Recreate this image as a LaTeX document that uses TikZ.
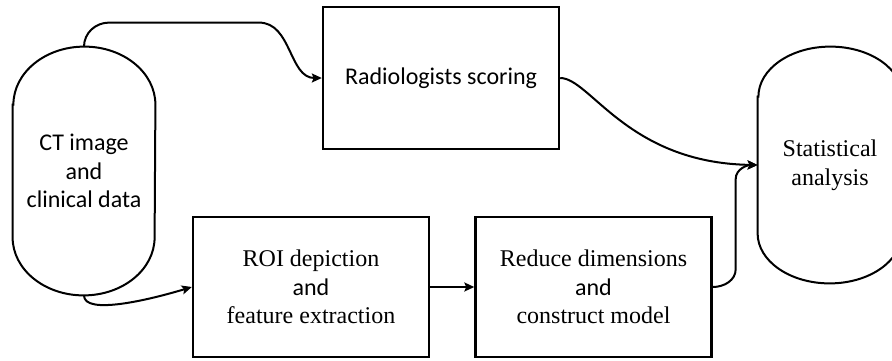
\documentclass[tikz,border=0pt]{standalone}
\usepackage{fontspec}
\setmainfont{Liberation Serif}
\newfontfamily\calibri{Carlito}
\usepackage{tikz}
\usetikzlibrary{arrows.meta}

\begin{document}
\begin{tikzpicture}[x=0.5pt,y=0.5pt,
    box/.style={draw,line width=1.2pt,minimum width=118pt,minimum height=70pt,inner sep=0pt,align=center,font=\fontsize{12}{14.3}\selectfont},
    capsule/.style={inner sep=0pt,align=center,font=\fontsize{12}{14.3}\selectfont},
    outline/.style={line width=1pt},
    flow/.style={line width=1pt,-{Stealth[length=5pt,width=4.5pt,inset=1pt]}}]
    \useasboundingbox (0,0) rectangle (892,360);
    \node[capsule,font=\calibri\fontsize{12}{14.3}\selectfont,minimum width=71pt,minimum height=124pt] (ct) at (84,189) {CT image\\and\\clinical data};
    \draw[outline] ([yshift=-29pt]ct.north west) -- ([yshift=29pt]ct.south west)
        arc[start angle=180,end angle=360,x radius=35.5pt,y radius=29pt]
        -- ([yshift=-29pt]ct.north east)
        arc[start angle=0,end angle=180,x radius=35.5pt,y radius=29pt] -- cycle;
    \node[box,font=\calibri\fontsize{12}{14.3}\selectfont,minimum height=71pt] (score) at (441,282) {Radiologists scoring};
    \node[box] (roi) at (311,73) {ROI depiction\\{\calibri and}\\feature extraction};
    \node[box] (reduce) at (593.5,73) {Reduce dimensions\\{\calibri and}\\construct model};
    \node[capsule,minimum width=72pt,minimum height=118pt] (stat) at (830,195) {Statistical\\analysis};
    \draw[outline] ([yshift=-25pt]stat.north west) -- ([yshift=25pt]stat.south west)
        arc[start angle=180,end angle=360,x radius=36pt,y radius=25pt]
        -- ([yshift=-25pt]stat.north east)
        arc[start angle=0,end angle=180,x radius=36pt,y radius=25pt] -- cycle;
    % connectors
    \draw[flow] (ct.north) to[out=90,in=180] ++(25,24) -- ++(150,0) to[out=0,in=180] (score.west);
    \draw[flow] (ct.south) .. controls +(0,-20) and +(-43,-13) .. (roi.west);
    \draw[flow] (roi) -- (reduce);
    \draw[flow] (score.east) .. controls +(30,0) and +(-130,2) .. (stat.west);
    \draw[flow] (reduce.east) to[out=0,in=-90] ++(23,18) -- ++(0,90) to[out=90,in=180] (stat.west);
\end{tikzpicture}
\end{document}
